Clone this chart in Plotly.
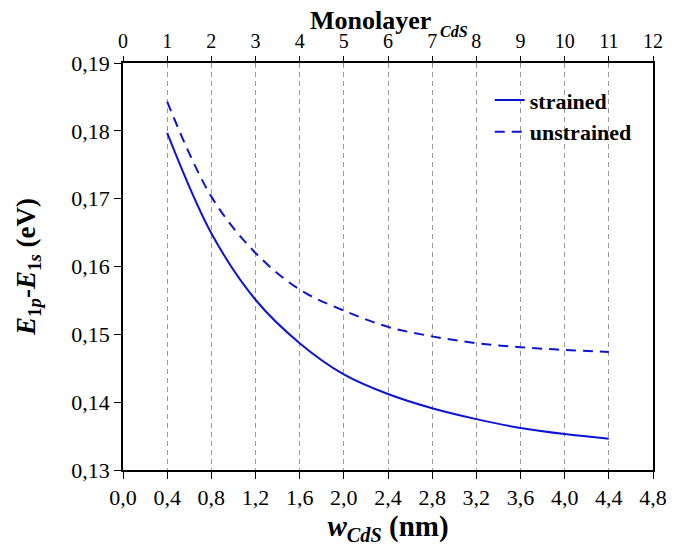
import plotly.graph_objects as go

w_nm = [0.4, 0.8, 1.2, 1.6, 2.0, 2.4, 2.8, 3.2, 3.6, 4.0, 4.4]
strained = [0.1797, 0.1649, 0.1551, 0.1487, 0.1441, 0.1412, 0.1391, 0.1375, 0.1362, 0.1353, 0.1346]
unstrained = [0.1843, 0.1703, 0.1620, 0.1566, 0.1535, 0.1511, 0.1497, 0.1487, 0.1481, 0.1477, 0.1474]
bottom_ticks = [0.0, 0.4, 0.8, 1.2, 1.6, 2.0, 2.4, 2.8, 3.2, 3.6, 4.0, 4.4, 4.8]
bottom_labels = ["0,0", "0,4", "0,8", "1,2", "1,6", "2,0", "2,4", "2,8", "3,2", "3,6", "4,0", "4,4", "4,8"]
top_ticks = list(range(0, 13))
y_ticks = [0.13, 0.14, 0.15, 0.16, 0.17, 0.18, 0.19]
y_labels = ["0,13", "0,14", "0,15", "0,16", "0,17", "0,18", "0,19"]

FONT = "'Liberation Serif', 'Times New Roman', Times, serif"
blue = "#0c14d4"
TICK = 22

fig = go.Figure()
fig.add_trace(go.Scatter(x=w_nm, y=strained, mode="lines", name="<b>strained</b>",
                         line=dict(color=blue, width=2, shape="spline")))
fig.add_trace(go.Scatter(x=w_nm, y=unstrained, mode="lines", name="<b>unstrained</b>",
                         line=dict(color=blue, width=2, dash="10px,7px", shape="spline")))
# invisible trace to activate top axis
fig.add_trace(go.Scatter(x=[0, 12], y=[0.13, 0.13], xaxis="x2", mode="markers",
                         marker=dict(opacity=0), showlegend=False, hoverinfo="skip"))

axis_common = dict(zeroline=False, showline=True, linecolor="black", linewidth=1.5,
                   ticks="outside", ticklen=7, tickcolor="black", tickwidth=1.3,
                   tickfont=dict(family=FONT, size=TICK), automargin=False)

fig.update_layout(
    width=683, height=549,
    margin=dict(l=115, r=38, t=55, b=87),
    paper_bgcolor="white", plot_bgcolor="white",
    font=dict(family=FONT, color="black", size=TICK),
    xaxis=dict(range=[0, 4.8], tickvals=bottom_ticks, ticktext=bottom_labels, showgrid=False,
               title=dict(text="<b><i>w</i><sub><i>CdS</i></sub> (nm)</b>", font=dict(family=FONT, size=29), standoff=0),
               **axis_common),
    xaxis2=dict(range=[0, 12], overlaying="x", side="top", tickvals=top_ticks,
                showgrid=True, gridcolor="#9a9a9a", griddash="5px,4px", gridwidth=1.2,
                **{**axis_common, "tickfont": dict(family=FONT, size=20), "ticklen": 5}),
    yaxis=dict(range=[0.13, 0.19], tickvals=y_ticks, ticktext=y_labels, showgrid=False, mirror=True,
               title=dict(text="<b><i>E</i><sub>1<i>p</i></sub>-<i>E</i><sub>1<i>s</i></sub> (eV)</b>",
                          font=dict(family=FONT, size=27), standoff=28),
               **axis_common),
    legend=dict(x=0.692, y=0.96, xanchor="left", yanchor="top", bgcolor="rgba(0,0,0,0)",
                font=dict(family=FONT, size=22, color="black"), tracegroupgap=0),
    showlegend=True,
    annotations=[
        dict(text="<b>Monolayer</b>", xref="x2", yref="paper",
             x=7.0, y=1.142, xanchor="right", yanchor="top", showarrow=False, borderpad=0,
             font=dict(family=FONT, size=26, color="black")),
        dict(text="<b><i>CdS</i></b>", xref="x2", yref="paper",
             x=7.5, y=1.078, xanchor="center", yanchor="middle", showarrow=False, borderpad=0,
             font=dict(family=FONT, size=16, color="black")),
    ],
)

fig.write_html("out.html")
